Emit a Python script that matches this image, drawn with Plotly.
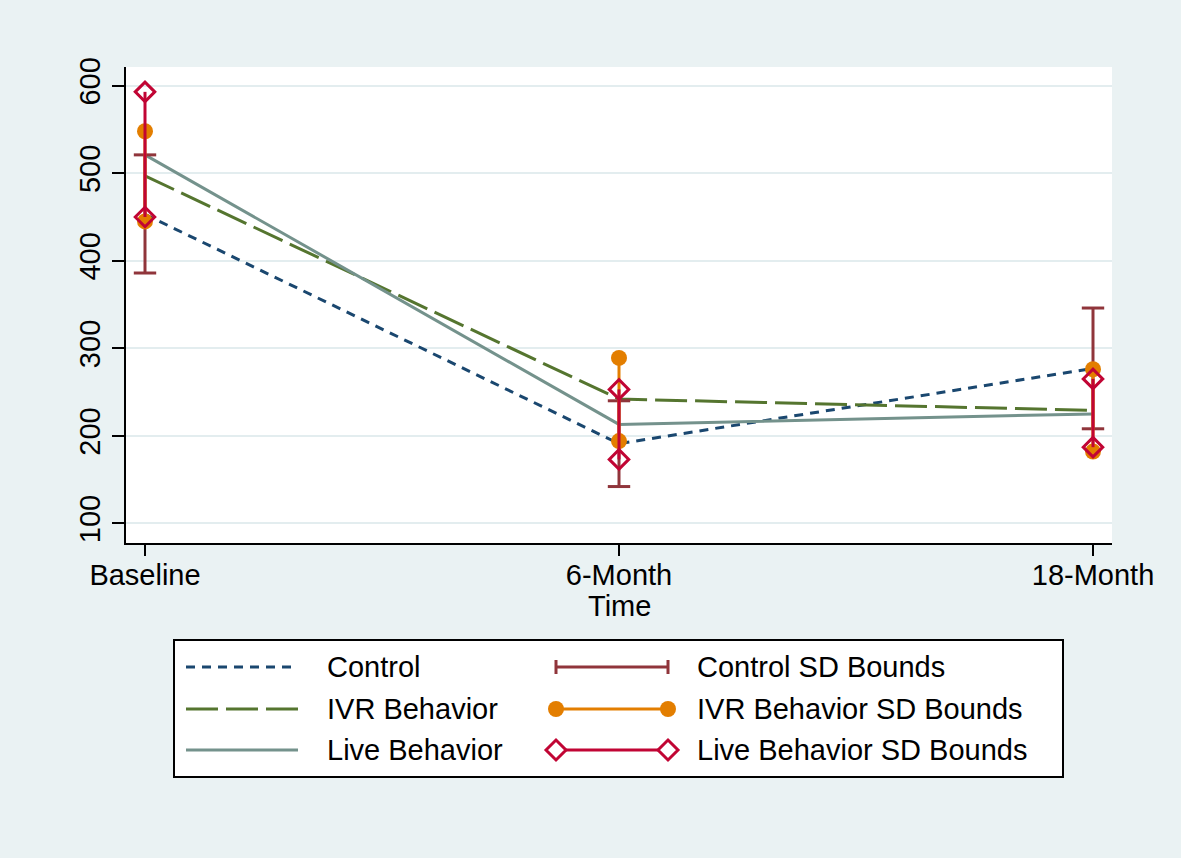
import plotly.graph_objects as go

# ---------------- data ----------------
categories = ["Baseline", "6-Month", "18-Month"]

control_mean = [453, 191, 277]
control_lo = [386, 142, 208]
control_hi = [521, 240, 346]

ivr_mean = [497, 242, 229]
ivr_lo = [445, 194, 182]
ivr_hi = [548, 289, 276]

live_mean = [521, 213, 225]
live_lo = [450, 173, 187]
live_hi = [593, 253, 265]

y_ticks = [100, 200, 300, 400, 500, 600]

series_names = ["Control", "IVR Behavior", "Live Behavior"]
bound_names = ["Control SD Bounds", "IVR Behavior SD Bounds", "Live Behavior SD Bounds"]

# ---------------- style ----------------
NAVY = "#1a476f"
MAROON = "#90353b"
GREEN = "#55752f"
ORANGE = "#e37e00"
TEAL = "#74928c"
CRAN = "#c10534"
BG = "#eaf2f3"
FONT = "Liberation Sans, Arial, Helvetica, sans-serif"

W, H = 1181, 858
L, R, T, B = 126, 69, 67, 315
PW = W - L - R
PH = H - T - B


def px(x):
    return (x - L) / PW


def py(y):
    return (H - B - y) / PH


def range_xy(lo, hi):
    xs, ys = [], []
    for c, a, b in zip(categories, lo, hi):
        xs += [c, c, None]
        ys += [a, b, None]
    return xs, ys


fig = go.Figure()

# mean lines
fig.add_trace(go.Scatter(x=categories, y=control_mean, mode="lines", name=series_names[0],
                         line=dict(color=NAVY, width=3, dash="9px,7px")))
fig.add_trace(go.Scatter(x=categories, y=ivr_mean, mode="lines", name=series_names[1],
                         line=dict(color=GREEN, width=3, dash="32px,8px")))
fig.add_trace(go.Scatter(x=categories, y=live_mean, mode="lines", name=series_names[2],
                         line=dict(color=TEAL, width=3)))

# SD bounds
cx, cy = range_xy(control_lo, control_hi)
fig.add_trace(go.Scatter(x=cx, y=cy, mode="lines+markers", name=bound_names[0],
                         line=dict(color=MAROON, width=3),
                         marker=dict(symbol="line-ew-open", size=16,
                                     line=dict(color=MAROON, width=3))))
ix, iy = range_xy(ivr_lo, ivr_hi)
fig.add_trace(go.Scatter(x=ix, y=iy, mode="lines+markers", name=bound_names[1],
                         line=dict(color=ORANGE, width=3),
                         marker=dict(symbol="circle", size=16, color=ORANGE)))
lx, ly = range_xy(live_lo, live_hi)
fig.add_trace(go.Scatter(x=lx, y=ly, mode="lines+markers", name=bound_names[2],
                         line=dict(color=CRAN, width=3),
                         marker=dict(symbol="diamond-open", size=15,
                                     line=dict(color=CRAN, width=3))))

# ---------------- manual legend ----------------
shapes = []
annotations = []
shapes.append(dict(type="rect", xref="paper", yref="paper",
                   x0=px(174), x1=px(1063), y0=py(777), y1=py(640),
                   fillcolor="white", line=dict(color="black", width=2), layer="above"))

rows = [667, 709, 750]
c1 = (186, 298)
c2 = (556, 668)
line_styles = [(NAVY, "9px,7px"), (GREEN, "32px,8px"), (TEAL, "solid")]
for (col, dash), yy in zip(line_styles, rows):
    shapes.append(dict(type="line", xref="paper", yref="paper",
                       x0=px(c1[0]), x1=px(c1[1]), y0=py(yy), y1=py(yy),
                       line=dict(color=col, width=3, dash=dash), layer="above"))

# Control SD glyph: line with caps
yy = rows[0]
shapes.append(dict(type="line", xref="paper", yref="paper",
                   x0=px(c2[0]), x1=px(c2[1]), y0=py(yy), y1=py(yy),
                   line=dict(color=MAROON, width=3), layer="above"))
for xx in c2:
    shapes.append(dict(type="line", xref="paper", yref="paper",
                       x0=px(xx), x1=px(xx), y0=py(yy - 7), y1=py(yy + 7),
                       line=dict(color=MAROON, width=3), layer="above"))

# IVR SD glyph: line with circles
yy = rows[1]
shapes.append(dict(type="line", xref="paper", yref="paper",
                   x0=px(c2[0]), x1=px(c2[1]), y0=py(yy), y1=py(yy),
                   line=dict(color=ORANGE, width=3), layer="above"))
for xx in c2:
    shapes.append(dict(type="circle", xref="paper", yref="paper",
                       x0=px(xx - 8), x1=px(xx + 8), y0=py(yy + 8), y1=py(yy - 8),
                       fillcolor=ORANGE, line=dict(color=ORANGE, width=0), layer="above"))

# Live SD glyph: line with hollow diamonds
yy = rows[2]
d = 10
shapes.append(dict(type="line", xref="paper", yref="paper",
                   x0=px(c2[0] + d), x1=px(c2[1] - d), y0=py(yy), y1=py(yy),
                   line=dict(color=CRAN, width=3), layer="above"))
for xx in c2:
    path = "M {},{} L {},{} L {},{} L {},{} Z".format(
        px(xx - d), py(yy), px(xx), py(yy - d), px(xx + d), py(yy), px(xx), py(yy + d))
    shapes.append(dict(type="path", xref="paper", yref="paper", path=path,
                       fillcolor="white", line=dict(color=CRAN, width=3), layer="above"))

for name, yy in zip(series_names, rows):
    annotations.append(dict(text=name, xref="paper", yref="paper", x=px(325), y=py(yy),
                            xanchor="left", yanchor="middle", showarrow=False,
                            font=dict(size=29, color="black", family=FONT)))
for name, yy in zip(bound_names, rows):
    annotations.append(dict(text=name, xref="paper", yref="paper", x=px(695), y=py(yy),
                            xanchor="left", yanchor="middle", showarrow=False,
                            font=dict(size=29, color="black", family=FONT)))

# x-axis title
annotations.append(dict(text="Time", xref="paper", yref="paper", x=px(619), y=py(606),
                        xanchor="center", yanchor="middle", showarrow=False,
                        font=dict(size=29, color="black", family=FONT)))

fig.update_layout(
    width=W, height=H,
    margin=dict(l=L, r=R, t=T, b=B, autoexpand=False),
    paper_bgcolor=BG, plot_bgcolor="white",
    showlegend=False,
    font=dict(family=FONT, size=29, color="black"),
    shapes=shapes, annotations=annotations,
    xaxis=dict(type="category", categoryorder="array", categoryarray=categories,
               range=[-19 / 474, 2 + 19 / 474],
               showgrid=False, zeroline=False,
               showline=True, linecolor="black", linewidth=2,
               ticks="outside", ticklen=11, tickwidth=2, tickcolor="black",
               ticklabelstandoff=-6,
               tickfont=dict(size=29, family=FONT, color="black"),
               automargin=False, fixedrange=True),
    yaxis=dict(range=[77.5, 621.4], tickvals=y_ticks, tickangle=-90,
               showgrid=True, gridcolor="#e3edef", gridwidth=2,
               zeroline=False,
               showline=True, linecolor="black", linewidth=2,
               ticks="outside", ticklen=12, tickwidth=2, tickcolor="black",
               tickfont=dict(size=29, family=FONT, color="black"),
               automargin=False, fixedrange=True),
)

fig.write_html(
    "out.html",
    config={"displayModeBar": False, "staticPlot": True},
    post_script="document.body.style.margin='0px';document.body.style.background='" + BG + "';",
)
